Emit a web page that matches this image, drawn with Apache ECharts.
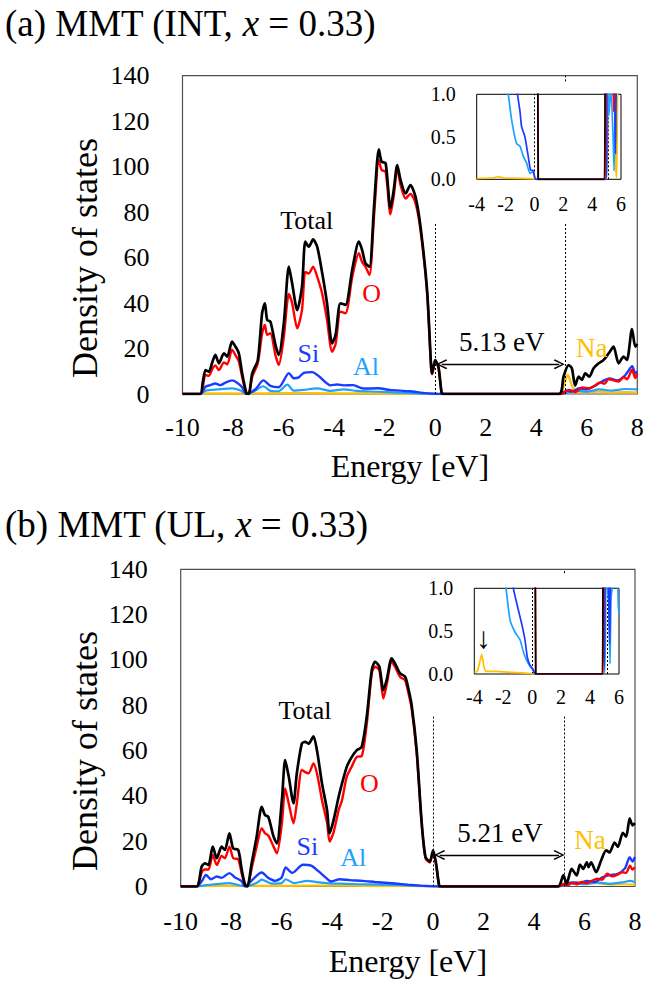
<!DOCTYPE html>
<html>
<head>
<meta charset="utf-8">
<script src="https://cdn.jsdelivr.net/npm/echarts@6/dist/echarts.min.js"></script>
<style>
  html, body { margin: 0; padding: 0; background: #fff; }
  #chart { width: 658px; height: 984px; }
</style>
</head>
<body>
<div id="chart"></div>
<script>
// Partial density of states of MMT, two Na configurations (INT and UL).
// Each curve is a list of [energy (eV), DOS] pairs.

// ---- (a) INT, full range ----
const totalA = [[-10,0],[-9.3,0],[-9.2,5],[-9.09,10.5],[-8.96,9.8],[-8.82,14],[-8.70,17.2],[-8.56,13.5],[-8.36,17.9],[-8.23,16.4],[-8.04,23.0],[-7.90,20.8],[-7.77,17.9],[-7.64,9.1],[-7.47,0.3],[-7.38,0],[-7.24,9.1],[-7.02,14.9],[-6.85,35.5],[-6.74,39.9],[-6.65,32.6],[-6.52,31.8],[-6.32,21.5],[-6.19,17.2],[-5.99,31.1],[-5.79,56.0],[-5.66,48.6],[-5.46,36.9],[-5.27,47.2],[-5.14,67.0],[-5.00,64.8],[-4.83,68.0],[-4.67,64.8],[-4.47,53.1],[-4.28,39.9],[-4.08,22.3],[-3.94,26.0],[-3.75,39.9],[-3.55,39.2],[-3.28,54.8],[-3.02,67.0],[-2.89,63.3],[-2.76,57.5],[-2.60,56.0],[-2.42,82.4],[-2.23,107.6],[-2.12,102.2],[-1.96,101.5],[-1.77,81.6],[-1.64,89.7],[-1.50,100.7],[-1.37,94.1],[-1.17,88.2],[-0.98,91.9],[-0.78,86.8],[-0.58,73.6],[-0.32,45.7],[-0.16,12.0],[-0.12,9.1],[0.00,14.9],[0.13,12.0],[0.26,0.3],[0.35,0],[4.90,0],[5.08,7.6],[5.28,12.7],[5.41,11.3],[5.54,3.7],[5.68,7.6],[5.81,6.2],[5.94,9.1],[6.10,7.6],[6.27,11.3],[6.47,13.5],[6.67,15.0],[6.87,17.9],[7.06,20.8],[7.26,13.5],[7.46,16.4],[7.59,15.0],[7.79,28.6],[7.92,20.8],[8.0,22]];
const oxygenA = [[-10,0],[-9.3,0],[-9.09,8.4],[-8.96,8.0],[-8.82,11],[-8.70,12.6],[-8.56,10.5],[-8.36,13.9],[-8.23,13],[-8.04,19.5],[-7.90,17],[-7.77,14.3],[-7.64,7.5],[-7.47,0.2],[-7.38,0],[-7.24,7.5],[-7.02,13.5],[-6.85,26.5],[-6.74,30.4],[-6.65,26],[-6.52,26.7],[-6.32,17],[-6.19,12.8],[-5.99,25],[-5.79,44.0],[-5.66,39.9],[-5.46,28.9],[-5.27,37],[-5.14,53.7],[-5.00,53.0],[-4.83,56.0],[-4.67,51.6],[-4.47,44],[-4.28,32.6],[-4.08,18.6],[-3.94,22],[-3.75,36.2],[-3.55,35.5],[-3.28,51.6],[-3.02,61.9],[-2.89,58],[-2.76,56.0],[-2.60,52.3],[-2.42,78],[-2.23,102.9],[-2.12,98.5],[-1.96,97.8],[-1.77,79],[-1.64,87],[-1.50,99.3],[-1.37,92],[-1.17,86],[-0.98,88],[-0.78,84],[-0.58,72],[-0.32,44.5],[-0.16,11.5],[-0.12,8.7],[0.00,14.3],[0.13,11.6],[0.26,0.3],[0.35,0],[4.90,0],[5.08,0.3],[5.28,1.8],[5.41,1.5],[5.54,0.8],[5.81,2.9],[6.10,2.5],[6.30,3.5],[6.53,5.1],[6.70,4.5],[6.87,6.6],[7.06,6],[7.26,5.5],[7.46,7.5],[7.60,6.5],[7.79,10.7],[7.92,7.0],[8.0,9]];
const siliconA = [[-10,0],[-9.3,0],[-9.09,3.2],[-8.90,3.9],[-8.70,4.6],[-8.50,3.9],[-8.30,5.0],[-8.04,6.0],[-7.84,5.0],[-7.64,3.0],[-7.47,0],[-7.38,0.2],[-7.10,2.2],[-6.80,6.0],[-6.52,3.6],[-6.19,3.0],[-5.79,9.2],[-5.59,6.9],[-5.40,7.3],[-5.20,9.3],[-4.87,9.6],[-4.60,7.8],[-4.14,3.8],[-3.88,4.2],[-3.62,3.8],[-3.24,3.9],[-2.85,2.4],[-2.25,2.5],[-1.80,1.8],[-1.0,1.2],[-0.5,0.5],[-0.1,0.1],[0.3,0],[4.95,0],[5.2,1.5],[5.4,1.0],[5.7,2.5],[6.0,2.0],[6.3,3.5],[6.6,5.5],[6.9,6.8],[7.2,6.0],[7.5,8.0],[7.8,12.2],[7.92,9],[8.0,10]];
const aluminumA = [[-10,0],[-9.3,0],[-9.09,1.4],[-8.6,2.0],[-8.04,2.5],[-7.7,1.5],[-7.47,0],[-7.2,1.0],[-6.80,3.4],[-6.52,1.4],[-6.2,1.2],[-5.85,4.1],[-5.6,1.5],[-5.2,1.8],[-4.67,2.5],[-4.14,1.4],[-3.62,2.0],[-3.1,1.4],[-2.3,1.0],[-1.5,0.6],[-0.8,0.3],[0.0,0.05],[0.3,0],[4.95,0],[5.3,0.8],[5.6,1.6],[6.0,1.0],[6.5,2.0],[7.0,1.5],[7.5,2.2],[8.0,2.0]];
const sodiumA = [[-10,0],[-9.3,0],[-9.0,0.3],[-7.5,0.2],[-6,0.4],[-4,0.3],[-2,0.2],[0,0.05],[0.3,0],[4.95,0],[5.1,4],[5.25,8.5],[5.4,4],[5.6,1.0],[6.0,0.8],[6.5,1.0],[7.0,0.6],[7.5,0.8],[8.0,0.6]];

// ---- (a) INT, band-edge close-up ----
const insetTotalA = [[-4,22],[-0.5,70],[-0.16,12],[-0.12,9],[0,15],[0.13,12],[0.2,4],[0.26,0],[4.85,0],[4.9,2],[5.1,8],[6,20]];
const insetOxygenA = [[-4,18],[-0.5,68],[-0.16,11],[0,14],[0.13,11],[0.2,4],[0.27,0],[4.92,0],[4.98,2],[5.4,1.5],[5.5,0.8],[5.56,1.4],[6,8]];
const insetSiliconA = [[-4,3.8],[-1.5,1.7],[-1.17,1.0],[-1.0,0.8],[-0.89,0.62],[-0.66,0.50],[-0.43,0.27],[-0.27,0.11],[-0.08,0.10],[0.1,0],[4.98,0],[5.05,1.5],[5.5,1.2],[5.62,0.3],[5.7,1.5],[6,2]];
const insetAluminumA = [[-4,2],[-1.9,1.1],[-1.81,1.0],[-1.58,0.70],[-1.24,0.42],[-1.0,0.39],[-0.77,0.27],[-0.54,0.19],[-0.31,0.07],[-0.08,0.09],[0.03,0.01],[0.15,0],[5.0,0],[5.08,1.2],[5.17,0.75],[5.3,1.1],[5.45,0.5],[5.52,0.1],[5.6,0.8],[5.75,1.2],[6,1.5]];
const insetSodiumA = [[-4,0.01],[-3,0.015],[-2.5,0.03],[-2,0.015],[-1,0.01],[0,0.005],[0.3,0],[5.0,0],[5.1,1.2],[5.55,1.1],[5.65,0.1],[5.7,0.02],[5.78,1.2],[6,1.5]];
const gapA = 5.13;

// ---- (b) UL, full range ----
const totalB = [[-10,0],[-9.37,0],[-9.17,8.7],[-9.04,10.2],[-8.90,9.5],[-8.73,17.6],[-8.57,12.5],[-8.38,17.6],[-8.25,16.1],[-8.07,23.5],[-7.92,16.8],[-7.72,16.1],[-7.58,7.3],[-7.45,0.7],[-7.36,0],[-7.19,10.2],[-6.99,22.0],[-6.79,35.2],[-6.66,31.5],[-6.53,30.8],[-6.32,22.0],[-6.19,19.0],[-5.99,38.2],[-5.86,55.8],[-5.72,48.5],[-5.53,36.7],[-5.40,49.9],[-5.20,63.1],[-5.07,63.8],[-4.93,63.1],[-4.74,66.3],[-4.60,60.0],[-4.40,45.4],[-4.20,33.6],[-4.10,23.5],[-3.94,29.4],[-3.74,39.7],[-3.61,45.4],[-3.42,52.8],[-3.22,57.2],[-3.02,60.2],[-2.83,61.6],[-2.63,74.8],[-2.43,95.5],[-2.30,99.2],[-2.13,97.0],[-1.97,86.7],[-1.84,91.1],[-1.64,100.7],[-1.51,98.5],[-1.31,94.1],[-1.11,92.6],[-0.98,87.4],[-0.85,80.1],[-0.65,60.2],[-0.45,28],[-0.3,13],[-0.13,11],[0.0,16],[0.12,10],[0.24,0.5],[0.32,0],[4.95,0],[5.16,4.9],[5.29,1.2],[5.49,7.8],[5.69,4.9],[5.82,9.7],[5.95,7.8],[6.09,10.7],[6.16,8.5],[6.26,10.7],[6.46,6.3],[6.66,11.6],[6.86,16.0],[6.99,15.0],[7.19,19.4],[7.32,17.5],[7.52,23.7],[7.65,22.0],[7.79,30.1],[7.9,27],[8.0,28]];
const oxygenB = [[-10,0],[-9.37,0],[-9.17,6.2],[-9.04,7.5],[-8.90,7.5],[-8.73,13.9],[-8.57,9.5],[-8.38,13.5],[-8.25,12.5],[-8.07,17.6],[-7.92,12.5],[-7.72,12.0],[-7.58,5.5],[-7.45,0.5],[-7.36,0],[-7.19,8],[-6.99,17.6],[-6.79,25.7],[-6.66,23.5],[-6.53,22.5],[-6.32,17.6],[-6.19,14.6],[-5.99,28],[-5.86,43.3],[-5.72,36.7],[-5.53,27.9],[-5.40,36.7],[-5.20,51.4],[-5.07,50.5],[-4.93,50.0],[-4.74,54.3],[-4.60,49.9],[-4.40,38],[-4.20,28],[-4.10,19.8],[-3.94,24],[-3.74,33.8],[-3.61,38],[-3.42,48.5],[-3.22,53],[-3.02,57.2],[-2.83,57.5],[-2.63,71.5],[-2.43,94.1],[-2.30,97.0],[-2.13,95.5],[-1.97,83.0],[-1.84,89],[-1.64,99.2],[-1.51,97.0],[-1.31,92.5],[-1.11,91],[-0.98,85.5],[-0.85,78.5],[-0.65,58.8],[-0.45,27.2],[-0.3,12.4],[-0.13,10.6],[0.0,15.4],[0.12,9.6],[0.24,0.4],[0.32,0],[4.95,0],[5.16,1.0],[5.3,0.4],[5.5,1.6],[5.7,1.0],[5.9,2.0],[6.1,1.5],[6.3,2.6],[6.5,3.4],[6.7,3.0],[6.9,5.6],[7.1,4.5],[7.3,5.2],[7.5,6.3],[7.65,6.0],[7.8,9.2],[7.9,7.5],[8.0,8.5]];
const siliconB = [[-10,0],[-9.37,0],[-9.17,2.2],[-9.0,5.1],[-8.8,3.2],[-8.57,4.4],[-8.38,3.8],[-8.07,5.9],[-7.85,4.0],[-7.6,2.5],[-7.45,0],[-7.2,2.5],[-6.79,6.2],[-6.53,3.8],[-6.26,2.5],[-6.0,4.0],[-5.84,8.4],[-5.58,6.0],[-5.16,9.6],[-4.83,9.2],[-4.57,7.0],[-4.24,3.8],[-4.04,2.2],[-3.7,3.2],[-3.3,2.8],[-2.8,2.5],[-2.3,2.0],[-1.5,1.3],[-1.0,0.8],[-0.5,0.4],[0,0.05],[0.2,0],[4.95,0],[5.2,1.0],[5.5,1.8],[5.8,1.5],[6.1,2.5],[6.4,2.0],[6.7,4.0],[7.0,5.0],[7.3,5.5],[7.6,8.0],[7.79,12.9],[7.9,11],[8.0,13]];
const aluminumB = [[-10,0],[-9.37,0],[-9.0,0.6],[-8.07,1.5],[-7.45,0],[-7.0,1.5],[-6.79,3.0],[-6.4,1.3],[-6.0,1.5],[-5.84,3.2],[-5.5,1.5],[-5.0,2.5],[-4.5,1.8],[-4.0,1.3],[-3.5,1.2],[-3.0,1.0],[-2.0,0.8],[-1.0,0.5],[0,0.05],[0.2,0],[4.95,0],[5.3,0.6],[5.6,1.5],[6.0,1.0],[6.5,1.8],[7.0,1.2],[7.5,1.8],[7.8,2.5],[8.0,2.0]];
const sodiumB = [[-10,0],[-9.37,0],[-9.0,0.3],[-8,0.3],[-6,0.3],[-4,0.4],[-3.5,0.4],[-2,0.2],[0,0.05],[0.2,0],[4.95,0],[5.2,1.5],[5.4,1.0],[5.7,2.0],[6.0,1.3],[6.5,1.5],[7.0,0.8],[7.5,1.0],[8.0,0.8]];

// ---- (b) UL, band-edge close-up ----
const insetTotalB = [[-4,20],[-0.5,40],[-0.12,10],[0,15],[0.12,10],[0.2,3],[0.24,0],[4.85,0],[4.9,2],[5.16,4.9],[5.29,1.2],[5.49,7.8],[6,8]];
const insetOxygenB = [[-4,18],[-0.5,38],[-0.12,9.5],[0,14],[0.12,9],[0.2,3],[0.25,0],[4.9,0],[4.97,2],[6,5]];
const insetSiliconB = [[-4,3.5],[-1.5,1.3],[-1.30,1.0],[-0.96,0.75],[-0.73,0.59],[-0.5,0.4],[-0.34,0.2],[-0.15,0.1],[0.08,0.05],[0.19,0],[4.95,0],[5.05,1.5],[5.25,1.2],[5.35,0.35],[5.45,1.3],[6,2]];
const insetAluminumB = [[-4,2],[-1.9,1.1],[-1.81,1.0],[-1.53,0.63],[-1.19,0.49],[-0.84,0.40],[-0.61,0.26],[-0.38,0.16],[-0.15,0.09],[0.03,0.05],[0.19,0],[5.0,0],[5.1,1.2],[5.3,0.8],[5.38,0.12],[5.46,0.9],[5.75,1.2],[5.9,1.1],[5.95,0.8],[6,0.7]];
const insetSodiumB = [[-4,0.02],[-3.8,0.03],[-3.65,0.12],[-3.49,0.23],[-3.35,0.1],[-3.2,0.03],[-2.5,0.03],[-1.5,0.02],[-0.5,0.01],[0.2,0],[4.95,0],[5.05,1.2],[6,1.5]];
const gapB = 5.21;

// Axis ticks
const energyTicks = { min: -10, max: 8, step: 2 };
const dosTicks = { min: 0, max: 140, step: 20 };
const insetEnergyTicks = { min: -4, max: 6, step: 2 };
const insetDosTicks = { min: 0, max: 1, step: 0.5 };

// Styling
const SERIF = "'Liberation Serif','Times New Roman',serif";
const COLORS = { total: '#000000', O: '#FF0000', Si: '#1A3CFF', Al: '#1FA2FF', Na: '#FFC000' };

const chart = echarts.init(document.getElementById('chart'), null, { renderer: 'svg' });

const mainGridA = { left: 182.5, top: 75.7, width: 454.8, height: 318.3 };
const insetGridA = { left: 476.7, top: 94.3, width: 144.3, height: 85 };
const mainGridB = { left: 180.7, top: 569.3, width: 454.3, height: 317.2 };
const insetGridB = { left: 474.3, top: 588.3, width: 144.7, height: 85.7 };

function mainGrid(g) {
  return Object.assign({ show: true, borderColor: '#505050', borderWidth: 1.2, backgroundColor: 'transparent' }, g);
}
function insetGrid(g) {
  return Object.assign({ show: true, borderColor: '#000', borderWidth: 1, backgroundColor: '#fff', z: 3 }, g);
}

function mainX(gi, labelMargin, nameGap) {
  return {
    gridIndex: gi, type: 'value', min: energyTicks.min, max: energyTicks.max, interval: energyTicks.step,
    axisLine: { show: false }, axisTick: { show: false }, splitLine: { show: false },
    axisLabel: { color: '#000', fontFamily: SERIF, fontSize: 26, margin: labelMargin },
    name: 'Energy [eV]', nameLocation: 'middle', nameGap: nameGap,
    nameTextStyle: { color: '#000', fontFamily: SERIF, fontSize: 32 }
  };
}
function mainY(gi) {
  return {
    gridIndex: gi, type: 'value', min: dosTicks.min, max: dosTicks.max, interval: dosTicks.step,
    axisLine: { show: false }, axisTick: { show: false }, splitLine: { show: false },
    axisLabel: { color: '#000', fontFamily: SERIF, fontSize: 26, margin: 33 }
  };
}
function insetX(gi, labelMargin) {
  return {
    gridIndex: gi, type: 'value', min: insetEnergyTicks.min, max: insetEnergyTicks.max, interval: insetEnergyTicks.step,
    axisLine: { show: false }, axisTick: { show: false }, splitLine: { show: false },
    axisLabel: { color: '#000', fontFamily: SERIF, fontSize: 20, margin: labelMargin }, z: 3
  };
}
function insetY(gi) {
  return {
    gridIndex: gi, type: 'value', min: insetDosTicks.min, max: insetDosTicks.max, interval: insetDosTicks.step,
    axisLine: { show: false }, axisTick: { show: false }, splitLine: { show: false },
    axisLabel: { color: '#000', fontFamily: SERIF, fontSize: 20, margin: 21, formatter: v => v.toFixed(1) }, z: 3
  };
}

function line(data, idx, color, width, z, smooth) {
  return {
    type: 'line', xAxisIndex: idx, yAxisIndex: idx, data: data,
    symbol: 'none', showSymbol: false, smooth: smooth, clip: true,
    lineStyle: { color: color, width: width }, z: z, silent: true, animation: false
  };
}

const ARROW = 'path://M5,0 L10,9 L8.8,10 L5,2.6 L1.2,10 L0,9 Z';
const dotted = { color: '#000', width: 1, type: [2, 2] };

// Dotted band-edge markers and the gap arrow, in data coordinates
function gapMarks(idx, gap, arrowY, lineTop, topStub, arrowInsetLeft, arrowInsetRight) {
  return {
    type: 'line', xAxisIndex: idx, yAxisIndex: idx, data: [], silent: true, animation: false, z: 6,
    markLine: {
      silent: true, animation: false, symbol: 'none', label: { show: false },
      data: [
        [{ coord: [0, 0], lineStyle: dotted }, { coord: [0, lineTop] }],
        [{ coord: [gap, 0], lineStyle: dotted }, { coord: [gap, lineTop] }],
        [{ coord: [gap, topStub], lineStyle: dotted }, { coord: [gap, dosTicks.max] }],
        [
          { coord: [arrowInsetLeft, arrowY], symbol: ARROW, symbolSize: [10, 11], lineStyle: { color: '#000', width: 1.3, type: 'solid' } },
          { coord: [gap - arrowInsetRight, arrowY], symbol: ARROW, symbolSize: [10, 11] }
        ]
      ]
    }
  };
}
function insetMarks(idx, gap) {
  return {
    type: 'line', xAxisIndex: idx, yAxisIndex: idx, data: [], silent: true, animation: false, z: 6,
    markLine: {
      silent: true, animation: false, symbol: 'none', label: { show: false },
      data: [
        [{ coord: [0, 0], lineStyle: dotted }, { coord: [0, 1] }],
        [{ coord: [gap, 0], lineStyle: dotted }, { coord: [gap, 1] }]
      ]
    }
  };
}

function panelSeries(mainIdx, insetIdx, d) {
  return [
    line(d.na, mainIdx, COLORS.Na, 2.2, 2, 0.25),
    line(d.al, mainIdx, COLORS.Al, 2.2, 2, 0.25),
    line(d.si, mainIdx, COLORS.Si, 2.4, 2, 0.25),
    line(d.o, mainIdx, COLORS.O, 2.4, 3, 0.25),
    line(d.total, mainIdx, COLORS.total, 2.7, 4, 0.25),
    line(d.iNa, insetIdx, COLORS.Na, 1.7, 5, 0.15),
    line(d.iAl, insetIdx, COLORS.Al, 1.7, 5, 0.15),
    line(d.iSi, insetIdx, COLORS.Si, 1.7, 5, 0.15),
    line(d.iO, insetIdx, COLORS.O, 1.7, 5, 0.15),
    line(d.iTotal, insetIdx, COLORS.total, 1.7, 5, 0.15)
  ];
}

function label(text, x, y, color, size) {
  return {
    type: 'text', x: x, y: y, z: 10, silent: true,
    style: { text: text, fill: color, fontFamily: SERIF, fontSize: size, align: 'center', verticalAlign: 'middle' }
  };
}
function title(text, x, y) {
  return {
    type: 'text', x: x, y: y, z: 10, silent: true,
    style: {
      text: text, fill: '#000', fontFamily: SERIF, fontSize: 37, align: 'left', verticalAlign: 'middle',
      rich: { i: { fontStyle: 'italic', fontFamily: SERIF, fontSize: 37, fill: '#000' } }
    }
  };
}
function yName(x, y) {
  return {
    type: 'text', x: x, y: y, rotation: Math.PI / 2, z: 10, silent: true,
    style: { text: 'Density of states', fill: '#000', fontFamily: SERIF, fontSize: 36, align: 'center', verticalAlign: 'middle' }
  };
}

const option = {
  backgroundColor: '#fff',
  animation: false,
  grid: [mainGrid(mainGridA), insetGrid(insetGridA), mainGrid(mainGridB), insetGrid(insetGridB)],
  xAxis: [mainX(0, 20, 56), insetX(1, 15), mainX(2, 22, 58), insetX(3, 13)],
  yAxis: [mainY(0), insetY(1), mainY(2), insetY(3)],
  series: [].concat(
    panelSeries(0, 1, { total: totalA, o: oxygenA, si: siliconA, al: aluminumA, na: sodiumA,
      iTotal: insetTotalA, iO: insetOxygenA, iSi: insetSiliconA, iAl: insetAluminumA, iNa: insetSodiumA }),
    [gapMarks(0, gapA, 13.1, 75.5, 137.5, 0.26, 0.22), insetMarks(1, gapA)],
    panelSeries(2, 3, { total: totalB, o: oxygenB, si: siliconB, al: aluminumB, na: sodiumB,
      iTotal: insetTotalB, iO: insetOxygenB, iSi: insetSiliconB, iAl: insetAluminumB, iNa: insetSodiumB }),
    [gapMarks(2, gapB, 13.9, 75, 138.3, 0.26, 0.22), insetMarks(3, gapB)]
  ),
  graphic: [
    title('(a) MMT (INT, {i|x} = 0.33)', 5, 23),
    title('(b) MMT (UL, {i|x} = 0.33)', 5, 524),
    yName(85, 258),
    yName(85, 751),
    label('Total', 306.7, 220, COLORS.total, 26),
    label('O', 371.7, 293.3, COLORS.O, 26),
    label('Si', 308.3, 353.3, COLORS.Si, 26),
    label('Al', 366, 366.7, COLORS.Al, 26),
    label('5.13 eV', 501.7, 341.7, '#000', 27),
    label('Na', 591.7, 348, COLORS.Na, 27),
    label('Total', 305, 710, COLORS.total, 26),
    label('O', 369.3, 783.3, COLORS.O, 26),
    label('Si', 307.3, 846.7, COLORS.Si, 26),
    label('Al', 353.3, 857.3, COLORS.Al, 26),
    label('5.21 eV', 500, 833, '#000', 27),
    label('Na', 590, 840, COLORS.Na, 27),
    label('\u2193', 483.5, 637, '#000', 30)
  ]
};

chart.setOption(option);
</script>
</body>
</html>
